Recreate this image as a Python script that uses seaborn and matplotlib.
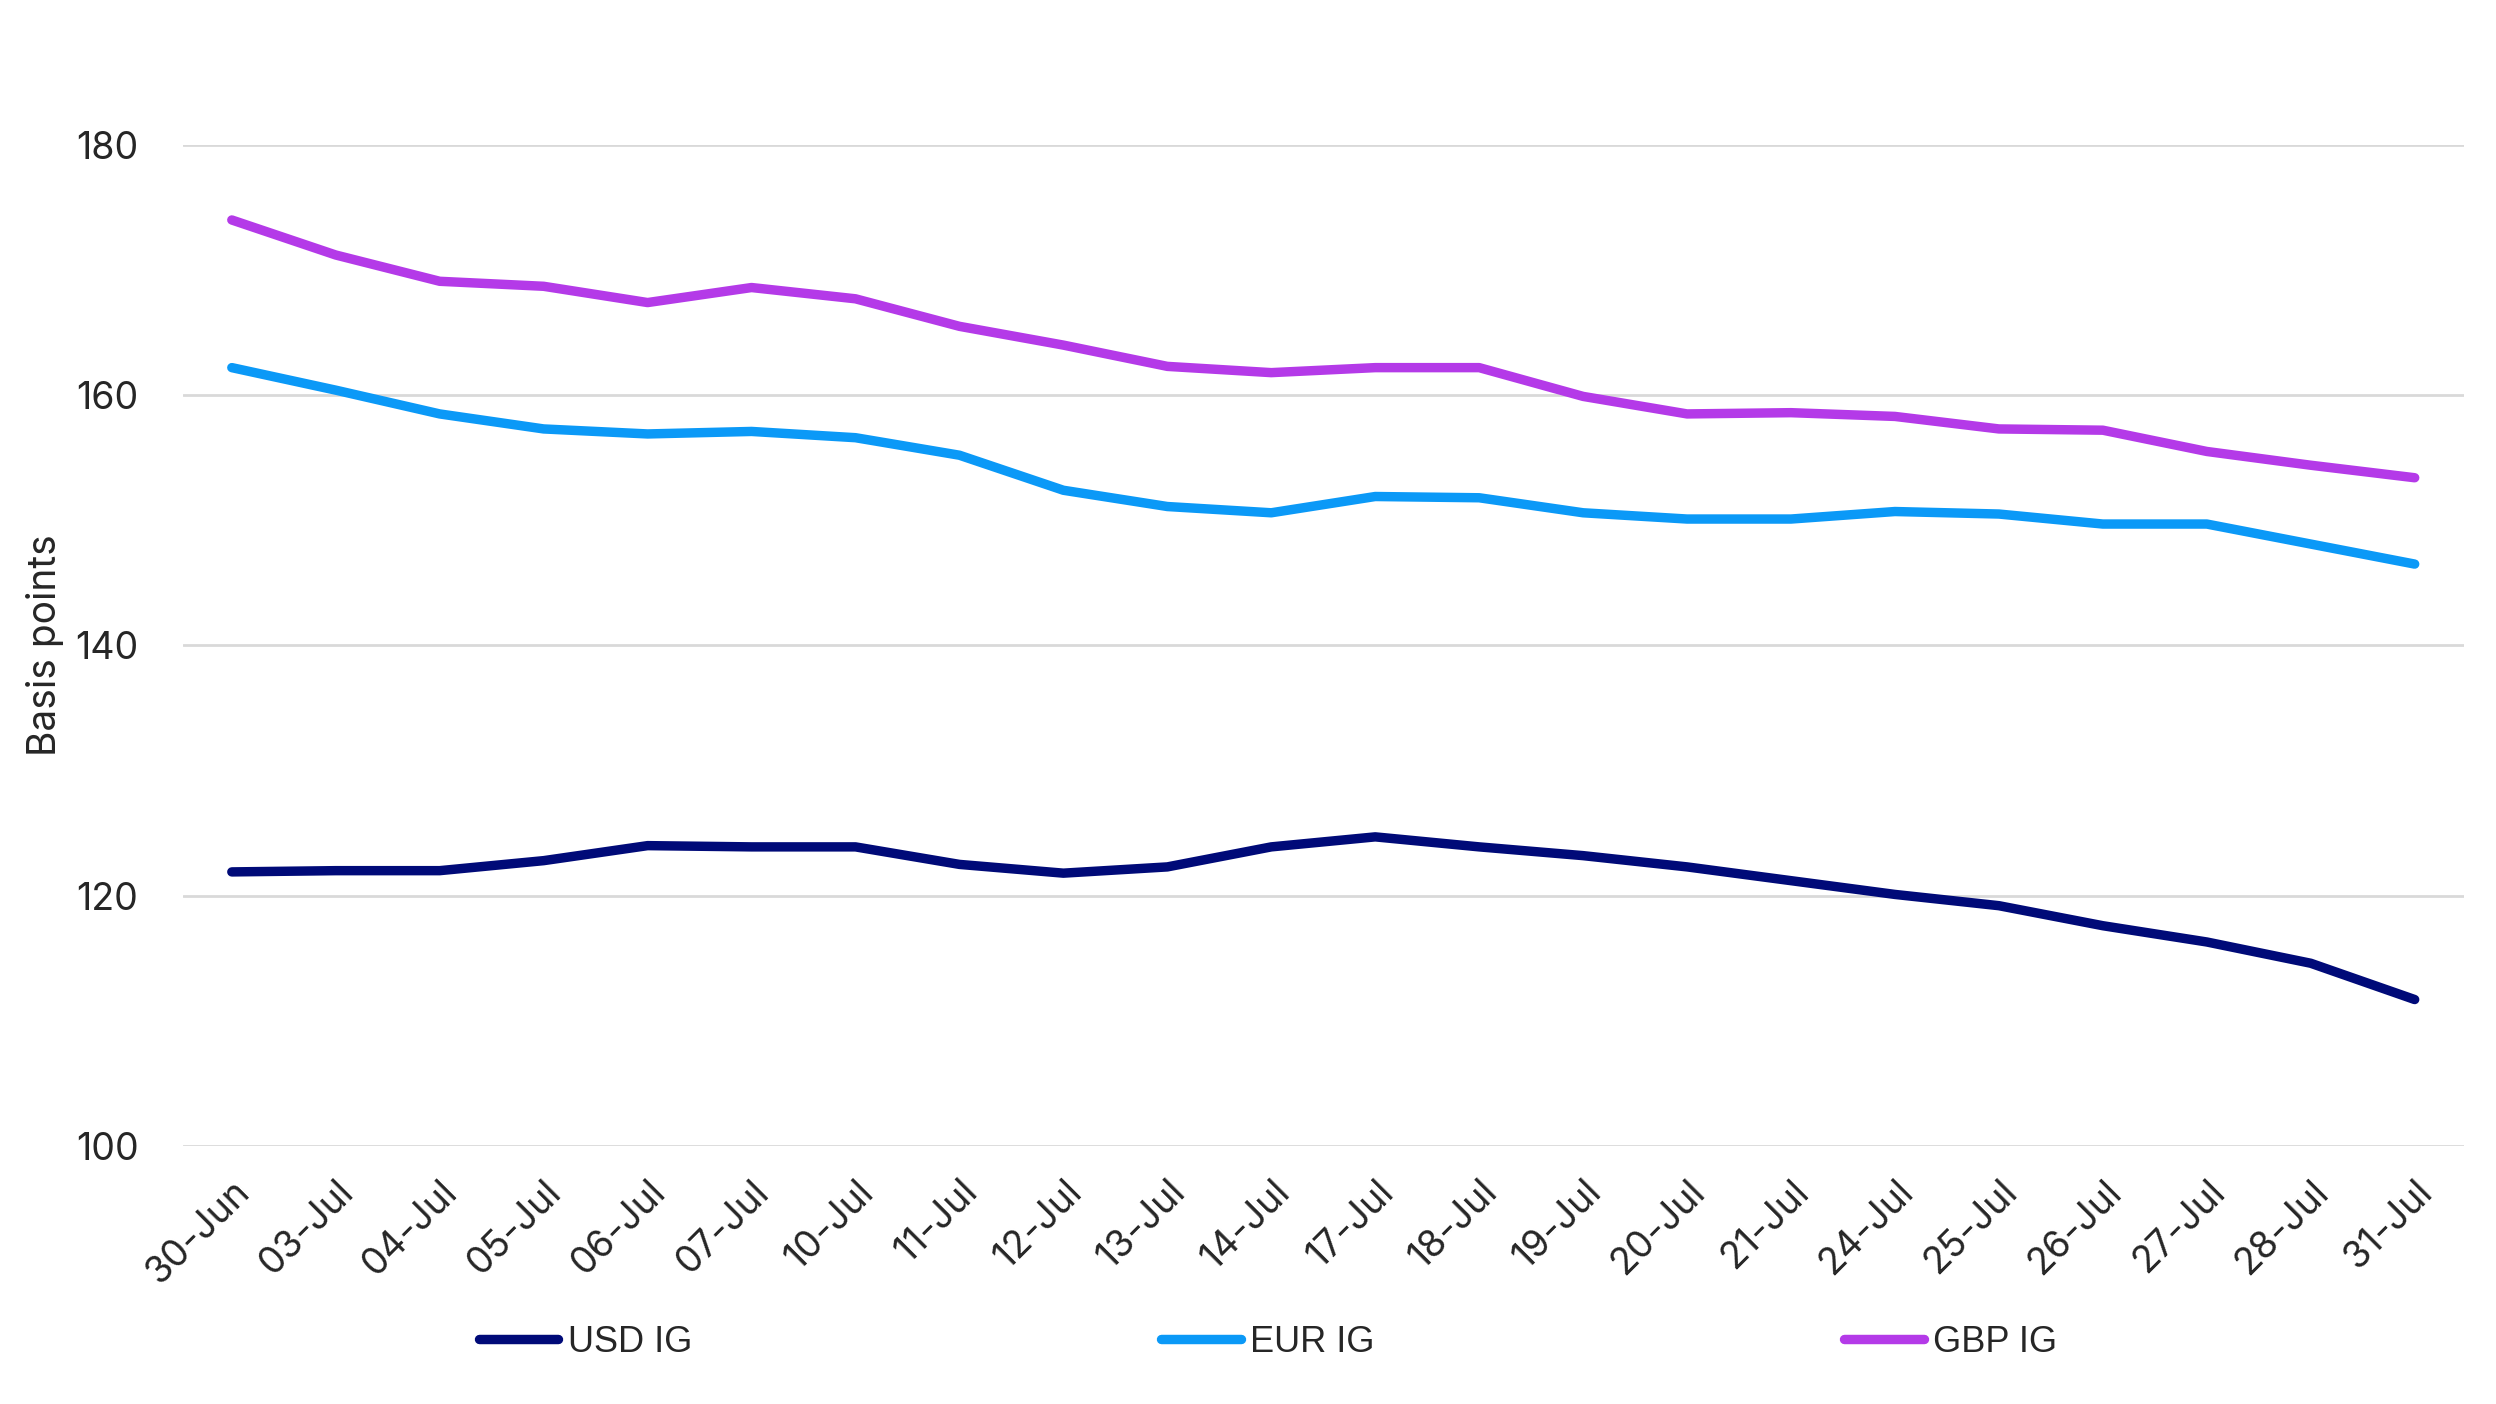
import pandas as pd
import seaborn as sns
from matplotlib import pyplot as plt

dates = ["30-Jun", "03-Jul", "04-Jul", "05-Jul", "06-Jul", "07-Jul", "10-Jul", "11-Jul",
         "12-Jul", "13-Jul", "14-Jul", "17-Jul", "18-Jul", "19-Jul", "20-Jul", "21-Jul",
         "24-Jul", "25-Jul", "26-Jul", "27-Jul", "28-Jul", "31-Jul"]

usd_ig = [121.9, 122.0, 122.0, 122.8, 124.0, 123.9, 123.9, 122.5, 121.8, 122.3, 123.9,
          124.7, 123.9, 123.2, 122.3, 121.2, 120.1, 119.2, 117.6, 116.3, 114.6, 111.7]
eur_ig = [162.2, 160.4, 158.5, 157.3, 156.9, 157.1, 156.6, 155.2, 152.4, 151.1, 150.6,
          151.9, 151.8, 150.6, 150.1, 150.1, 150.7, 150.5, 149.7, 149.7, 148.1, 146.5]
gbp_ig = [174.0, 171.2, 169.1, 168.7, 167.4, 168.6, 167.7, 165.5, 164.0, 162.3, 161.8,
          162.2, 162.2, 159.9, 158.5, 158.6, 158.3, 157.3, 157.2, 155.5, 154.4, 153.4]

series = ["USD IG", "EUR IG", "GBP IG"]
colors = ["#000a78", "#0b99f7", "#b43ae8"]

df = pd.DataFrame({"date": dates, "USD IG": usd_ig, "EUR IG": eur_ig, "GBP IG": gbp_ig})
df["pos"] = range(len(dates))
long = df.melt(id_vars=["date", "pos"], value_vars=series, var_name="series", value_name="bp")

sns.set_style("white")
plt.rcParams["font.family"] = ["Inter", "DejaVu Sans"]

fig = plt.figure(figsize=(12.48, 7.02), dpi=200)
ax = fig.add_axes([0.0733, 0.1838, 0.9137, 0.7130])

sns.lineplot(data=long, x="pos", y="bp", hue="series", hue_order=series,
             palette=colors, linewidth=3.4, ax=ax, legend=False,
             solid_capstyle="round", solid_joinstyle="round")

ax.set_xlim(-0.47, len(dates) - 1 + 0.47)
ax.set_ylim(100, 180)
ax.set_yticks([100, 120, 140, 160, 180])
ax.set_xticks(range(len(dates)))
ax.set_xticklabels(dates, rotation=45, ha="right", rotation_mode="anchor")
ax.tick_params(axis="x", labelsize=13.5, pad=10, length=0)
ax.tick_params(axis="y", labelsize=13.5, pad=16, length=0)
ax.grid(axis="y", color="#d9d9d9", linewidth=1.0)
ax.set_axisbelow(True)
for s in ax.spines.values():
    s.set_visible(False)
ax.set_xlabel("")
ax.set_ylabel("Basis points", fontsize=14, labelpad=4)

# legend below the plot, spread wide like the original
handles = [plt.Line2D([], [], color=c, linewidth=3.4, solid_capstyle="round") for c in colors]
leg = fig.legend(handles, series, loc="center", bbox_to_anchor=(0.508, 0.044), ncol=3,
                 frameon=False, handlelength=2.2, handletextpad=0.26, columnspacing=13.0,
                 prop={"family": ["Liberation Sans", "DejaVu Sans"], "size": 13})

fig.savefig("out.png", dpi=200)
